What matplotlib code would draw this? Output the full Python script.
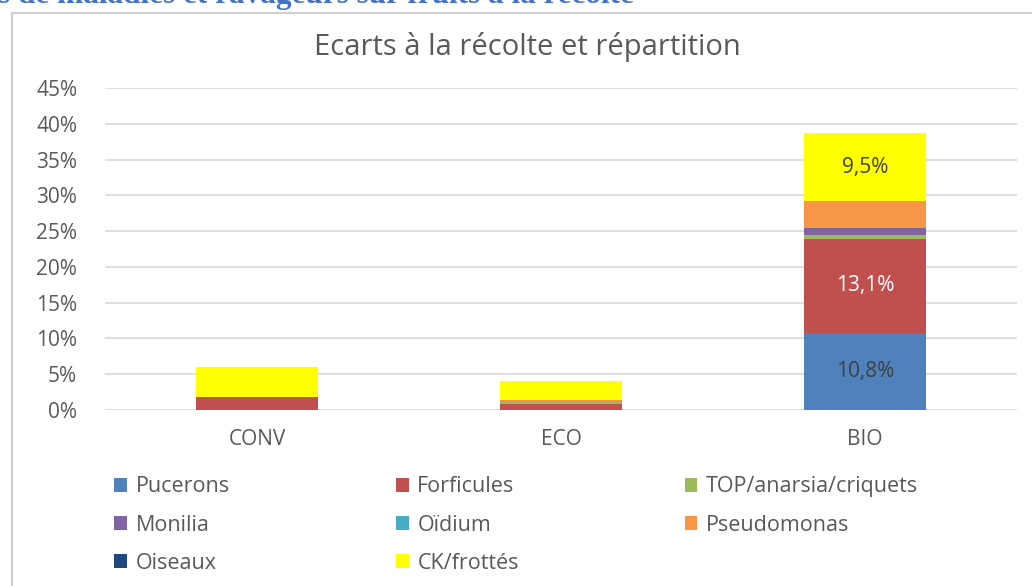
import matplotlib.pyplot as plt
import numpy as np
from matplotlib.patches import Rectangle

# data (in %)
categories = ["CONV", "ECO", "BIO"]
series_names = ["Pucerons", "Forficules", "TOP/anarsia/criquets", "Monilia",
                "Oïdium", "Pseudomonas", "Oiseaux", "CK/frottés"]
pucerons = [0.0, 0.0, 10.8]
forficules = [1.8, 0.9, 13.1]
top_anarsia = [0.0, 0.35, 0.6]
monilia = [0.0, 0.0, 0.9]
oidium = [0.0, 0.0, 0.0]
pseudomonas = [0.0, 0.15, 3.8]
oiseaux = [0.0, 0.0, 0.0]
ck_frottes = [4.2, 2.6, 9.5]
yticks = [0, 5, 10, 15, 20, 25, 30, 35, 40, 45]

colors = ["#4F81BD", "#C0504D", "#9BBB59", "#8064A2",
          "#4BACC6", "#F79646", "#1F497D", "#FFFF00"]
values = [pucerons, forficules, top_anarsia, monilia,
          oidium, pseudomonas, oiseaux, ck_frottes]

plt.rcParams['font.family'] = ['Open Sans', 'DejaVu Sans']

fig = plt.figure(figsize=(10.32, 5.86), dpi=100)
ax = fig.add_axes([105 / 1032, 1 - 410 / 586, 912 / 1032, 322 / 586])

# cut-off heading at the very top
fig.text(-0.002, 1 - 2.5 / 586, "s de maladies et ravageurs sur fruits à la récolte",
         family=['Liberation Serif', 'DejaVu Serif'], fontweight='bold',
         fontsize=22.5, color='#4472C4', va='baseline', ha='left')

# chart area frame
fig.patches.append(Rectangle((12 / 1032, -0.01), 1.1, 1 - 13 / 586 + 0.01,
                             transform=fig.transFigure, fill=False,
                             edgecolor='#D0D0D0', linewidth=1.5))

x = np.arange(len(categories))
bottom = np.zeros(len(categories))
bars = []
for name, vals, col in zip(series_names, values, colors):
    b = ax.bar(x, vals, 0.4, bottom=bottom, color=col, label=name, zorder=3)
    bars.append(b)
    bottom += np.array(vals)

# data labels on BIO
label_colors = {0: '#404040', 1: 'white', 7: '#404040'}
for i, c in label_colors.items():
    rect = bars[i][2]
    v = values[i][2]
    ax.text(rect.get_x() + rect.get_width() / 2, rect.get_y() + rect.get_height() / 2,
            f"{v:.1f}%".replace('.', ','), ha='center', va='center',
            fontsize=15, color=c, zorder=4)

ax.set_xlim(-0.5, 2.5)
ax.set_ylim(0, 45)
ax.set_yticks(yticks)
ax.set_yticklabels([f"{t}%" for t in yticks])
ax.set_xticks(x)
ax.set_xticklabels(categories)
ax.tick_params(axis='both', length=0, labelsize=15, colors='#595959')
ax.tick_params(axis='x', pad=14)
ax.tick_params(axis='y', pad=20)
ax.grid(axis='y', color='#D9D9D9', linewidth=1.2, zorder=0)
for s in ax.spines.values():
    s.set_visible(False)

# title centred on the chart area, not the plot area
fig.text(527 / 1032, 1 - 55 / 586, "Ecarts à la récolte et répartition",
         fontsize=21, color='#595959', ha='center', va='baseline')

# legend filled row by row like the reference
order = [0, 3, 6, 1, 4, 7, 2, 5]
fig.legend(handles=[bars[i] for i in order], labels=[series_names[i] for i in order],
           ncol=3, loc='upper left',
           bbox_to_anchor=(95 / 1032, 1 - 457 / 586), frameon=False,
           fontsize=15.5, labelcolor='#595959', handlelength=0.6, handleheight=0.6,
           handletextpad=0.4, columnspacing=7.7, labelspacing=0.8)

fig.savefig("out.png", dpi=100)
